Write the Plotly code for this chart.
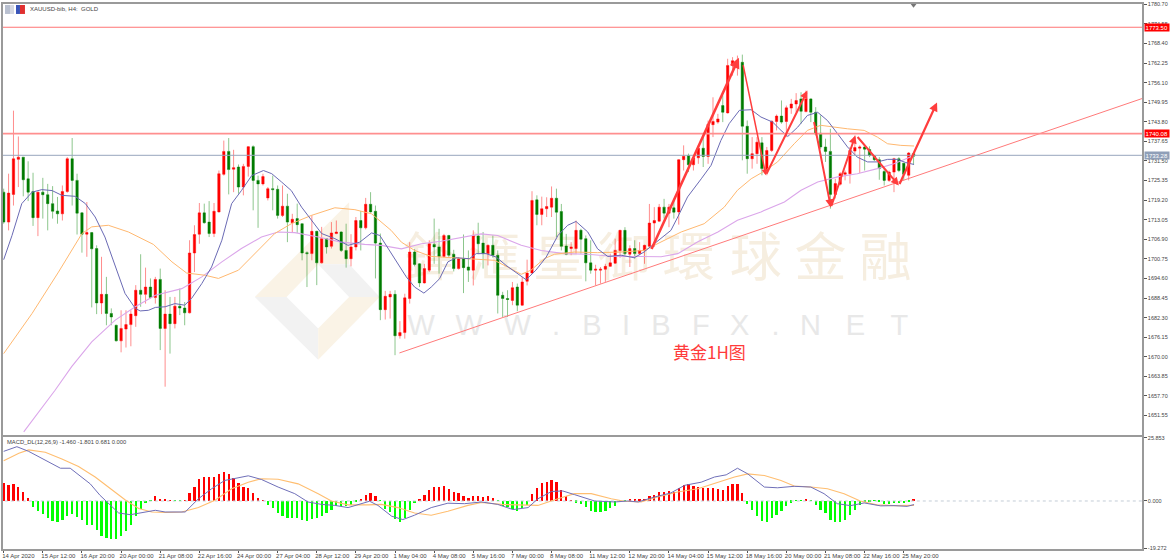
from plotly.subplots import make_subplots
import plotly.graph_objects as go

# bar numbers count H4 candles from 14 Apr 2020
open_ = [1721.7,1712.3,1721.0,1732.0,1732.7,1725.9,1721.9,1713.7,1721.7,1720.9,
         1718.1,1715.8,1714.9,1721.9,1732.2,1725.4,1715.2,1708.5,1709.0,1704.0,
         1686.9,1689.6,1683.6,1679.9,1675.0,1678.7,1680.1,1682.9,1690.9,1689.6,
         1691.9,1688.6,1694.3,1678.9,1683.4,1680.4,1685.9,1685.3,1683.8,1702.6,
         1708.5,1715.2,1712.3,1708.7,1715.5,1727.3,1734.5,1728.9,1729.6,1723.3,
         1729.8,1736.0,1725.4,1724.3,1719.9,1722.8,1722.6,1714.4,1717.3,1712.1,
         1713.4,1711.8,1702.7,1702.4,1709.4,1699.5,1707.1,1704.7,1708.7,1709.2,
         1703.4,1700.8,1704.5,1712.8,1710.5,1717.9,1715.7,1705.7,1684.8,1688.8,
         1689.6,1676.6,1677.6,1688.3,1702.9,1699.2,1693.2,1697.2,1705.3,1704.5,
         1701.5,1708.1,1702.2,1697.7,1700.8,1698.2,1697.2,1707.9,1705.7,1702.4,
         1705.0,1701.9,1689.3,1688.3,1687.7,1691.9,1686.2,1693.7,1696.3,1719.3,
         1714.7,1716.5,1717.0,1719.8,1715.6,1704.8,1704.0,1704.0,1709.7,1707.1,
         1699.5,1697.2,1697.2,1697.5,1698.4,1699.4,1703.4,1709.7,1702.2,1704.0,
         1702.4,1703.4,1704.7,1712.0,1712.6,1717.0,1715.1,1716.8,1715.5,1731.9,
         1733.2,1730.3,1732.5,1735.5,1732.9,1742.9,1743.7,1748.9,1746.6,1761.5,
         1762.5,1762.5,1742.4,1732.2,1733.8,1737.2,1728.5,1734.8,1743.9,1745.6,
         1743.9,1748.1,1749.4,1751.0,1747.0,1751.0,1746.8,1740.2,1735.9,1734.5,
         1721.0,1724.2,1727.3,1727.5,1734.6,1735.5,1735.9,1735.1,1733.0,1731.9,
         1728.2,1725.4,1728.0,1732.2,1730.8,1727.0,1733.8]
high = [1722.8,1727.5,1747.3,1739.2,1732.7,1731.4,1727.8,1721.9,1726.2,1724.3,
        1723.6,1720.2,1723.8,1732.7,1738.7,1727.5,1715.4,1718.6,1709.2,1705.0,
        1701.4,1695.1,1685.2,1680.1,1684.6,1684.6,1684.6,1692.5,1702.2,1698.0,
        1694.6,1695.1,1697.7,1690.9,1688.8,1688.8,1691.4,1687.2,1706.6,1711.3,
        1718.3,1718.1,1718.9,1718.3,1728.5,1737.9,1738.7,1735.0,1730.4,1730.6,
        1736.2,1736.4,1726.9,1727.5,1723.3,1726.9,1723.8,1723.8,1721.2,1714.9,
        1718.1,1711.9,1703.1,1714.4,1709.6,1710.8,1707.3,1712.3,1712.8,1709.4,
        1711.8,1708.5,1713.9,1715.8,1719.9,1721.7,1717.5,1708.7,1690.7,1690.7,
        1690.9,1681.2,1689.8,1706.0,1703.9,1699.4,1699.2,1706.6,1713.4,1710.2,
        1708.6,1708.3,1703.6,1701.3,1708.4,1703.4,1709.7,1712.1,1709.2,1705.3,
        1708.1,1703.4,1690.4,1690.9,1693.5,1693.0,1695.1,1700.5,1722.0,1720.7,
        1720.3,1720.1,1723.5,1722.8,1718.0,1708.6,1706.0,1712.8,1710.2,1708.1,
        1706.6,1698.9,1698.2,1699.2,1702.4,1707.1,1709.9,1710.7,1705.0,1706.6,
        1706.0,1705.2,1718.0,1717.0,1718.0,1719.6,1718.0,1719.6,1732.1,1736.4,
        1733.8,1732.7,1736.4,1739.0,1744.2,1751.5,1746.3,1752.1,1763.6,1764.1,
        1764.6,1764.9,1744.2,1739.0,1739.0,1739.0,1735.9,1744.2,1746.1,1750.5,
        1748.9,1751.0,1752.8,1753.1,1753.6,1751.2,1748.4,1745.8,1738.5,1741.6,
        1725.9,1728.0,1728.5,1735.9,1739.5,1736.4,1736.1,1736.1,1733.2,1732.7,
        1729.1,1728.5,1732.5,1732.7,1730.9,1734.3,1734.0]
low = [1711.8,1709.7,1717.5,1723.3,1720.4,1718.9,1711.1,1707.9,1713.4,1709.7,
       1713.4,1711.8,1712.8,1721.5,1717.5,1708.4,1702.7,1701.4,1685.5,1683.4,
       1683.4,1679.9,1679.9,1674.8,1671.4,1672.9,1673.3,1679.4,1685.7,1686.7,
       1688.3,1686.7,1672.1,1660.6,1671.0,1678.9,1683.1,1679.9,1683.6,1696.6,
       1705.5,1711.8,1707.6,1707.6,1715.3,1726.9,1721.0,1721.7,1721.2,1720.7,
       1726.6,1716.0,1710.5,1723.8,1719.1,1716.0,1713.4,1713.9,1706.0,1708.9,
       1708.9,1700.3,1691.9,1700.3,1692.5,1699.3,1702.4,1704.0,1708.5,1702.9,
       1698.0,1698.4,1703.4,1703.4,1710.0,1715.3,1694.6,1681.5,1681.7,1682.0,
       1670.5,1675.7,1675.7,1686.7,1698.4,1691.9,1693.0,1696.6,1699.2,1696.1,
       1701.1,1701.1,1696.8,1697.4,1690.0,1693.5,1692.4,1702.4,1697.7,1698.7,
       1701.1,1683.6,1682.5,1682.5,1686.2,1684.3,1686.0,1692.4,1696.1,1711.3,
       1711.3,1713.9,1713.9,1707.6,1703.4,1701.9,1701.9,1702.4,1702.4,1693.7,
       1696.1,1692.4,1693.0,1693.5,1698.2,1699.2,1701.1,1701.9,1698.2,1700.8,
       1701.9,1699.2,1704.5,1704.5,1712.3,1713.4,1710.7,1713.4,1711.5,1728.5,
       1728.0,1728.5,1730.6,1729.6,1730.6,1739.0,1743.2,1743.7,1746.4,1758.3,
       1758.3,1731.7,1727.5,1729.1,1730.6,1727.0,1727.0,1734.3,1741.1,1743.2,
       1739.0,1746.3,1746.8,1743.2,1746.8,1743.7,1739.5,1735.3,1731.2,1716.5,
       1719.7,1723.8,1725.4,1724.4,1733.2,1727.7,1728.5,1732.7,1731.5,1725.6,
       1723.8,1724.9,1721.7,1728.0,1725.4,1725.4,1730.4]
close = [1712.3,1721.4,1732.2,1732.7,1725.6,1721.7,1713.7,1721.7,1720.9,1718.1,
         1715.7,1714.9,1721.9,1732.2,1725.4,1715.1,1708.5,1709.0,1703.9,1686.9,
         1689.6,1683.6,1682.5,1675.0,1678.9,1680.1,1683.4,1690.9,1689.6,1691.9,
         1688.6,1694.3,1678.9,1683.4,1680.4,1685.9,1685.3,1683.8,1702.6,1708.4,
         1715.2,1712.1,1708.7,1715.7,1727.5,1734.5,1728.8,1729.4,1723.3,1729.8,
         1736.0,1725.4,1724.3,1726.6,1722.8,1722.5,1714.4,1717.3,1712.3,1713.2,
         1711.5,1702.6,1702.4,1709.4,1699.5,1707.1,1704.5,1708.9,1709.2,1703.4,
         1700.8,1704.5,1712.8,1710.5,1717.9,1715.5,1705.7,1684.8,1689.0,1689.6,
         1676.6,1677.6,1688.5,1702.9,1699.0,1693.2,1697.7,1705.5,1704.5,1701.5,
         1708.1,1701.9,1697.7,1700.8,1698.0,1697.2,1708.1,1705.5,1702.4,1705.0,
         1701.9,1689.3,1688.3,1688.0,1691.7,1686.2,1693.5,1696.3,1719.1,1714.7,
         1716.5,1717.2,1719.8,1715.4,1704.7,1702.2,1704.5,1709.7,1706.9,1699.5,
         1697.2,1697.5,1697.5,1698.4,1699.5,1703.4,1709.7,1702.4,1704.0,1702.4,
         1703.4,1705.0,1712.0,1712.8,1717.0,1715.1,1717.0,1715.4,1731.9,1733.0,
         1730.3,1732.5,1735.5,1732.9,1743.0,1743.9,1744.7,1746.8,1761.5,1763.0,
         1763.0,1742.4,1732.2,1733.8,1737.4,1729.1,1734.8,1744.0,1745.6,1743.7,
         1748.2,1749.4,1750.5,1747.1,1751.0,1746.8,1740.0,1735.9,1734.5,1721.0,
         1724.4,1727.5,1727.8,1734.8,1735.7,1735.9,1735.2,1733.2,1731.9,1729.1,
         1725.4,1728.0,1732.2,1728.5,1727.3,1734.0,1733.0]

fast_bar = [0,1.7,3.7,5.8,7.8,9.9,11.9,14.6,16.7,18.7,20.7,22.8,24.8,26.9,27.9,29.6,31,33,35,37,38.4,
            40.5,42.5,44.6,46.6,48.6,50.7,53.1,54.8,56.8,58.8,60.9,62.9,65,67.7,70.4,72.8,75.2,76.9,
            79.9,82.3,84,85.9,87.4,89.1,90.8,92.5,95.2,96.6,98.6,100.7,102.7,105.1,106.8,108.8,110.9,
            113.3,115.3,117,119.4,121.4,123.5,126.2,128.9,130.9,133,136.4,137.8,139.8,142.6,144.6,146.6,
            148.3,150.4,152.8,154.8,157.2,158.9,160.3,162.3,164.3,166.4,168.4,170.5,172.5,174.5,176.6,
            178.6,180.7,182.7,184.4,186.1]
fast_ma = [1700.5,1708.1,1718.1,1721.7,1722.5,1722.2,1720.7,1720.4,1718.1,1713.9,1707.6,1698.2,1689.9,1685.2,
           1684.4,1684.6,1685.5,1685.7,1686.7,1686.2,1688.3,1693.0,1698.2,1706.6,1718.1,1722.2,1726.9,1728.5,
           1727.5,1724.9,1722.2,1717.0,1712.8,1708.7,1707.1,1705.0,1706.0,1708.9,1708.1,1700.8,1695.1,1691.9,
           1690.0,1691.9,1694.5,1699.8,1701.1,1700.8,1702.4,1702.4,1701.3,1698.7,1696.1,1694.2,1697.2,1701.3,
           1708.1,1711.3,1712.5,1709.2,1703.9,1701.5,1701.9,1701.1,1702.9,1705.5,1709.7,1713.9,1720.2,1725.9,
           1730.1,1737.9,1743.2,1747.4,1747.6,1745.3,1743.7,1741.1,1739.2,1742.1,1745.8,1746.8,1744.2,1740.0,
           1735.9,1732.7,1731.2,1731.2,1732.0,1732.0,1731.0,1730.4]
mid_bar = [0,5.8,11.2,16,18,21.4,25.5,30.6,34.4,37.4,41.2,43.9,48,52,55.4,58.8,62.9,67.7,71.8,75.2,79.2,81.3,
           84,87.4,91.5,96.2,100.3,103,105.8,107.8,110.5,112.6,116.7,121.4,126.2,130.9,133.7,135.7,138.5,143.2,
           147.3,150,152.8,155.5,158.2,161.6,164.3,167,169.8,172.5,175.9,178.6,180.7,183.4,186.1]
mid_ma = [1671.0,1683.6,1696.6,1708.7,1710.8,1711.3,1709.2,1705.3,1699.8,1696.3,1695.6,1694.6,1697.2,1703.4,
          1708.7,1711.8,1714.4,1716.8,1716.2,1714.9,1709.7,1706.0,1703.4,1701.5,1701.1,1700.8,1700.3,1698.2,
          1695.9,1697.2,1700.8,1702.2,1702.9,1702.7,1702.9,1703.4,1705.5,1707.1,1709.2,1711.8,1717.0,1722.3,
          1725.9,1728.3,1731.2,1736.9,1741.1,1742.7,1742.1,1741.6,1741.1,1739.0,1736.9,1736.4,1736.2]
slow_bar = [4.1,10.5,13.9,18,22.8,26.9,31,36.4,40.5,44.6,48.6,52.7,56.1,59.5,64.3,69,73.8,77.2,81.3,85.4,89.4,
            94.2,97.6,101,105.8,109.9,114.6,119.4,124.8,130.3,134.4,137.8,141.9,146,150,154.8,159.6,163,166.4,
            170.5,174.5,178.6,182,186.1]
slow_ma = [1646.4,1659.5,1666.9,1674.7,1681.5,1685.7,1689.3,1691.4,1695.1,1699.8,1704.0,1707.6,1709.2,1709.0,
           1707.6,1706.0,1705.3,1705.0,1703.9,1705.5,1706.3,1707.6,1708.6,1708.1,1705.0,1703.4,1702.4,1702.2,
           1701.5,1701.5,1701.4,1702.4,1706.1,1709.2,1712.9,1715.5,1718.6,1722.3,1724.9,1726.5,1727.5,1729.1,
           1730.6,1733.2]

macd_hist = [7.05,6.37,6.64,5.69,3.66,0.95,-2.7,-4.2,-5.4,-7.2,-8.5,-8.9,-8.1,-6.2,-5.4,-6.8,-8.1,-9.9,-9.9,-12.2,
             -14.4,-15.3,-15.6,-15.6,-14.4,-12.3,-9.9,-6.2,-3.4,-1.1,-0.1,2.0,0.7,0.4,0.1,-0.1,-0.1,0.1,3.0,5.7,
             8.7,9.8,9.5,9.5,10.7,11.7,10.8,9.1,7.0,5.7,5.3,3.3,0.9,0.1,-1.6,-3.1,-5.1,-6.2,-7.0,-7.0,
             -7.2,-8.1,-8.5,-7.6,-7.3,-6.2,-5.1,-3.8,-2.4,-2.2,-2.2,-1.8,-0.4,0.7,2.3,3.0,2.0,-0.1,-3.5,-4.5,
             -7.6,-8.8,-7.2,-3.8,-1.1,0.7,2.2,4.3,5.6,5.7,5.8,4.9,3.5,3.0,2.0,1.2,1.9,1.9,1.6,1.9,
             1.2,-0.1,-2.4,-2.8,-3.5,-4.2,-3.1,-1.8,2.6,5.3,7.0,7.7,8.4,7.6,4.3,2.0,0.1,-0.8,-1.4,-2.8,
             -4.2,-4.5,-4.5,-4.2,-3.1,-2.4,-0.1,-0.1,0.5,0.5,0.5,0.7,1.9,2.3,3.5,3.5,3.8,3.5,5.1,6.4,
             6.6,6.1,5.7,5.3,5.3,5.0,4.6,4.2,6.0,6.6,6.6,3.1,-1.4,-3.8,-6.2,-8.5,-8.9,-7.3,-5.8,-4.2,
             -2.2,-0.8,-0.1,-0.1,0.3,-0.1,-1.9,-3.8,-5.1,-7.9,-8.7,-8.7,-8.0,-5.8,-3.9,-2.0,-0.5,-0.3,-0.1,-0.3,
             -1.4,-1.4,-1.1,-1.1,-1.1,-0.4,0.681]
macd_bar = [0,2.7,5.1,8.5,11.6,13.6,15.6,17.7,19.7,21.4,23.5,25.9,28.2,31,33,37.1,39.8,42.5,45.2,47.3,50,52.7,56.1,
            59.5,62.2,65,67.7,70.4,72.8,74.8,76.5,79.3,81.6,84,87.4,90.8,94.2,97.7,101,104.1,107.2,109.2,112,114.3,
            116.7,120.8,124.9,127.6,129.7,133,136.4,139.2,142.6,145.3,147.7,150,152.1,155.5,158.2,161.6,165,167.7,
            170.4,173.1,175.9,179.3,182,184.7,186.1]
macd_line = [20.3,22.2,20.3,16.8,13.4,13.4,10.4,7.0,2.3,-1.1,-4.9,-5.6,-4.7,-3.8,-4.5,-4.5,0.9,5.0,8.4,9.1,10.3,8.8,
             5.7,3.0,-0.4,-1.4,-1.8,-2.7,-1.4,-0.1,-1.8,-6.2,-7.6,-5.8,-2.7,-0.9,-1.1,-0.4,-1.4,-3.5,-2.7,0.9,3.9,4.1,
             2.6,0,-0.4,0,-0.4,1.6,3.3,6.4,7.7,9.8,10.7,13.4,11.1,5.7,5.4,6.0,5.7,3.0,-1.1,-1.9,-0.8,-2.0,-1.9,-2.2,-1.46]
signal_bar = [0,3.1,5.1,8.5,11.9,15.3,18.7,21.4,24.8,27.6,30.3,33,36.4,39.8,43.2,46.6,50,52.7,56.1,60.2,64.3,67,
              70.4,74.5,77.2,80.6,84,87.4,90.8,94.9,97.7,101.7,109.2,113.3,116.7,120.1,124.2,126.9,130.3,133.7,137.8,
              141.9,146,149.4,152.1,155.5,158.9,161.6,165,168.4,171.8,175.1,178.5,182,186.1]
signal_line = [16.5,19.5,20.9,19.9,17.2,14.1,9.8,5.7,0.5,-3.1,-4.5,-4.7,-4.5,-2.7,0.3,5.0,7.7,9.1,8.9,7.0,3.0,0,
               -1.6,-1.6,-1.4,-2.7,-4.9,-5.8,-4.2,-1.8,-0.6,-1.4,-1.8,0.9,3.0,3.0,0.9,-0.1,-0.4,1.6,3.7,5.0,7.7,
               9.8,11.1,10.4,8.4,6.1,5.7,5.0,3.0,0,-1.6,-1.9,-1.80]

price_ticks = [1780.70,1774.55,1768.40,1762.25,1756.10,1749.95,1743.80,1737.65,1731.50,1725.35,1719.20,
               1713.05,1706.90,1700.75,1694.60,1688.45,1682.30,1676.15,1670.00,1663.85,1657.70,1651.55]
macd_ticks = [25.853,0.000,-19.272]
date_ticks = [0,8,16,24,32,40,48,56,64,72,80,88,96,104,112,120,128,136,144,152,160,168,176,184]
date_labels = ["14 Apr 2020","15 Apr 12:00","16 Apr 20:00","20 Apr 00:00","21 Apr 08:00","22 Apr 16:00",
               "24 Apr 00:00","27 Apr 04:00","28 Apr 12:00","29 Apr 20:00","1 May 04:00","4 May 08:00",
               "5 May 16:00","7 May 00:00","8 May 08:00","11 May 12:00","12 May 20:00","14 May 04:00",
               "15 May 12:00","18 May 16:00","20 May 00:00","21 May 08:00","22 May 16:00","25 May 20:00"]

level_high = 1773.50
level_mid = 1740.08
last_price = 1733.28
trend_bar = [80.9,232.9]
trend_price = [1671.2,1751.2]
# hand drawn zigzag, (from_bar, from_price, to_bar, to_price, width)
arrows = [(132.3,1703.4,150.3,1763.9,2.6),
          (151.1,1762.1,155.8,1727.0,1.5),
          (155.8,1727.0,164.3,1753.6,2),
          (165.6,1744.2,169.1,1716.9,2),
          (169.1,1716.9,174.1,1739.5,2),
          (174.3,1739.5,183,1723.8,2),
          (183,1723.8,190.8,1749.9,2.2)]

W, H = 1170, 560
L, R, T, B = 1, 1142, 2, 549


def px(x, y):
    return (x-L)/(R-L), 1-(y-T)/(B-T)


fig = make_subplots(rows=2, cols=1, shared_xaxes=True)

fig.add_trace(go.Candlestick(x=list(range(len(open_))), open=open_, high=high, low=low, close=close,
                             increasing=dict(line=dict(color="rgba(255,0,0,0.45)", width=1), fillcolor="#ff0000"),
                             decreasing=dict(line=dict(color="rgba(0,128,0,0.45)", width=1), fillcolor="#007a00"),
                             whiskerwidth=0), row=1, col=1)
fig.add_trace(go.Scatter(x=slow_bar, y=slow_ma, mode="lines", line=dict(color="#dba6ea", width=1.1)), row=1, col=1)
fig.add_trace(go.Scatter(x=mid_bar, y=mid_ma, mode="lines", line=dict(color="#ffb870", width=1)), row=1, col=1)
fig.add_trace(go.Scatter(x=fast_bar, y=fast_ma, mode="lines", line=dict(color="#6a6ab4", width=1)), row=1, col=1)
fig.add_trace(go.Scatter(x=trend_bar, y=trend_price, mode="lines", line=dict(color="#ff7a7a", width=1)), row=1, col=1)
fig.add_trace(go.Scatter(x=[-1,233], y=[level_high]*2, mode="lines", line=dict(color="#ff7575", width=1.2)), row=1, col=1)
fig.add_trace(go.Scatter(x=[-1,233], y=[level_mid]*2, mode="lines", line=dict(color="#ff8f8f", width=1.6)), row=1, col=1)
fig.add_trace(go.Scatter(x=[-1,233], y=[last_price]*2, mode="lines", line=dict(color="#98a6bd", width=1)), row=1, col=1)
fig.add_trace(go.Scatter(x=[186], y=[1780.6], mode="markers", cliponaxis=False,
                         marker=dict(symbol="triangle-down", size=6, color="#777777")), row=1, col=1)

hist_colors = ["#ff0000" if v >= 0 else "#00ff00" for v in macd_hist]
fig.add_trace(go.Bar(x=list(range(len(macd_hist))), y=macd_hist, width=0.46, marker=dict(color=hist_colors, line_width=0)),
              row=2, col=1)
fig.add_trace(go.Scatter(x=[-1,233], y=[0,0], mode="lines", line=dict(color="#c3ccd6", width=1, dash="dot")), row=2, col=1)
fig.add_trace(go.Scatter(x=signal_bar, y=signal_line, mode="lines", line=dict(color="#ffbe70", width=1.1)), row=2, col=1)
fig.add_trace(go.Scatter(x=macd_bar, y=macd_line, mode="lines", line=dict(color="#6f6fb8", width=1)), row=2, col=1)

# zigzag arrows
for x0, y0, x1, y1, w in arrows:
    fig.add_annotation(x=x1, y=y1, ax=x0, ay=y0, xref="x", yref="y", axref="x", ayref="y", text="",
                       showarrow=True, arrowhead=2, arrowsize=0.8, arrowwidth=w, arrowcolor="#ff3d3d",
                       standoff=0, startstandoff=0)

# price tags on the scale
for level, col in [(level_high, "#ff0000"), (level_mid, "#ff0000"), (last_price, "#8f9fb8")]:
    fig.add_annotation(x=px(1144, 0)[0], y=level, xref="paper", yref="y", xanchor="left", yanchor="middle",
                       text="%.2f" % level, showarrow=False, bgcolor=col, borderpad=0.6,
                       font=dict(family="Liberation Sans", size=6, color="#ffffff"))


def label(x, y, text, size, color="#444444", family="Liberation Sans", anchor="left"):
    xp, yp = px(x, y)
    fig.add_annotation(x=xp, y=yp, xref="paper", yref="paper", xanchor=anchor, yanchor="middle",
                       text=text, showarrow=False, font=dict(family=family, size=size, color=color))


label(26, 7.5, "XAUUSD-bib, H4:  GOLD", 6)
label(3, 442, "MACD_DL(12,26,9) -1.460 -1.801 0.681 0.000", 5.8)
label(708.5, 351, "黄金1H图", 17, "#ff3b3b", "Noto Sans CJK SC", "center")

shapes = []


def pxshape(x0, y0, x1, y1, color):
    (a, b), (c, d) = px(x0, y0), px(x1, y1)
    shapes.append(dict(type="rect", xref="paper", yref="paper", x0=a, y0=b, x1=c, y1=d,
                       line_width=0, fillcolor=color))


# title bar icons
pxshape(3, 3, 8, 12, "#b9c0d0")
pxshape(8, 3, 12, 12, "#d5d8e2")
pxshape(14, 3, 18, 12, "#3a55b8")
pxshape(18, 3, 23, 12, "#e03030")


def polygon(points, color):
    path = "M " + " L ".join("%.4f %.4f" % px(x, y) for x, y in points) + " Z"
    shapes.append(dict(type="path", xref="paper", yref="paper", path=path, line_width=0, fillcolor=color, layer="below"))


# watermark logo
polygon([(253.3,296),(347.7,201),(347.7,263.3),(316.7,263.3),(285,296)], "#faf3e6")
polygon([(316.7,263.3),(347.7,263.3),(378.3,296),(347.7,296)], "#f2f2f2")
polygon([(253.3,296),(285,296),(316.7,327.7),(316.7,359)], "#f2f2f2")
polygon([(316.7,327.7),(347.7,296),(378.3,296),(316.7,359)], "#faf3e6")


def watermark(x, y, text, size, color, family):
    a, b = px(x-40, y-40)
    c, d = px(x+40, y+40)
    shapes.append(dict(type="rect", xref="paper", yref="paper", x0=a, y0=b, x1=c, y1=d, line_width=0,
                       fillcolor="rgba(0,0,0,0)", layer="below",
                       label=dict(text=text, textposition="middle center", font=dict(size=size, color=color, family=family))))


for x, ch in zip([428,493,558,623,688,755,820,885], "鋒滙皇御環球金融"):
    watermark(x, 260, ch, 52, "#f6eee0", "Noto Sans CJK TC")
for x, ch in zip([420,468,516,555,591,625,660,700,739,775,810,855,899], "WWW.BIBFX.NET"):
    watermark(x, 321, ch, 29, "#e8e8e8", "Liberation Sans")

fig.update_layout(width=W, height=H, showlegend=False, plot_bgcolor="#ffffff", paper_bgcolor="#ffffff",
                  margin=dict(l=L, r=W-R, t=T, b=H-B), bargap=0, shapes=shapes, hovermode=False)

xr = [-0.14, 232.7]
fig.update_xaxes(range=xr, showgrid=False, zeroline=False, showline=True, linecolor="#9a9a9a", linewidth=2, mirror=True,
                 rangeslider_visible=False)
fig.update_xaxes(showticklabels=False, ticks="", row=1, col=1)
fig.update_xaxes(tickvals=date_ticks, ticktext=date_labels, ticks="outside", ticklen=2, tickwidth=1, tickcolor="#555555",
                 showticklabels=True, ticklabelposition="outside right", tickangle=0, ticklabelshift=-3,
                 tickfont=dict(family="Liberation Sans", size=6, color="#444444"), row=2, col=1)
fig.update_yaxes(side="right", showgrid=False, zeroline=False, showline=True, linecolor="#9a9a9a", linewidth=1.5, mirror=True,
                 ticks="outside", ticklen=3, tickwidth=1, tickcolor="#555555",
                 tickfont=dict(family="Liberation Sans", size=5.5, color="#444444"))
fig.update_yaxes(domain=[(B-435)/(B-T), 1], range=[1645.3,1780.8], tickvals=price_ticks,
                 ticktext=["%.2f" % v for v in price_ticks], row=1, col=1)
fig.update_yaxes(domain=[0, (B-437)/(B-T)], range=[-19.63,26.0], tickvals=macd_ticks,
                 ticktext=["%.3f" % v for v in macd_ticks], row=2, col=1)

fig.write_html("out.html", config={"displayModeBar": False}, post_script="document.body.style.margin='0';")
